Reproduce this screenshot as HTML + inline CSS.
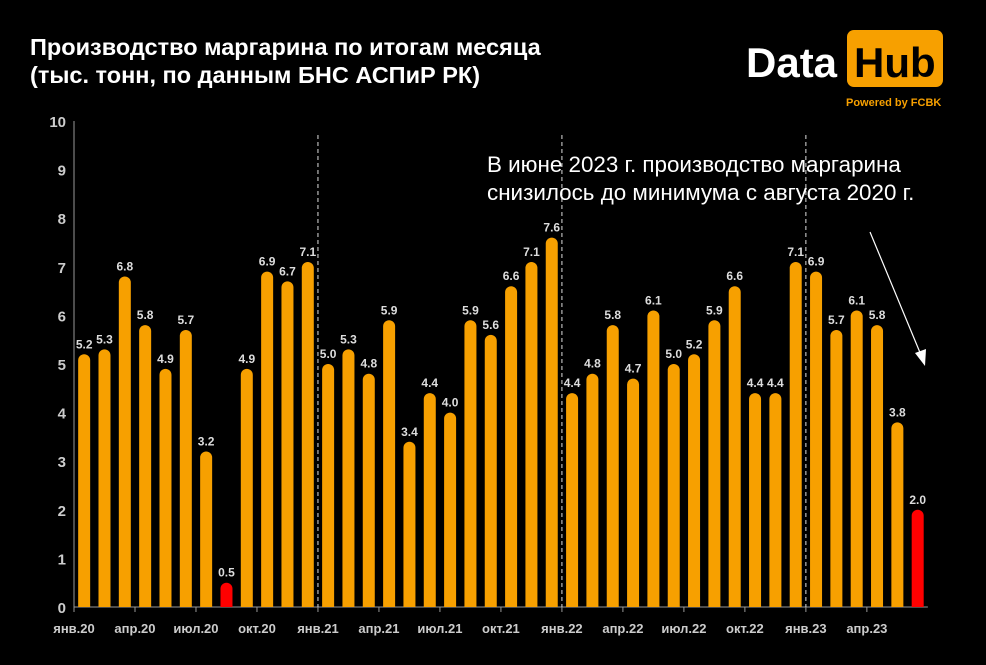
<!DOCTYPE html>
<html><head><meta charset="utf-8"><style>
body{margin:0;background:#000;width:986px;height:665px;overflow:hidden;font-family:"Liberation Sans",sans-serif}
svg{display:block}
</style></head><body>
<svg width="986" height="665">
<text x="30" y="55" fill="#fff" font-size="23.5" font-weight="bold">Производство маргарина по итогам месяца</text>
<text x="30" y="83" fill="#fff" font-size="23.5" font-weight="bold">(тыс. тонн, по данным БНС АСПиР РК)</text>
<g>
<text x="746" y="77" fill="#fff" font-size="42" font-weight="bold">Data</text>
<rect x="847" y="30" width="96" height="57" rx="7" fill="#f7a000"/>
<text x="854" y="77" fill="#000" font-size="42" font-weight="bold">Hub</text>
<text x="846" y="106" fill="#f7a000" font-size="11" font-weight="bold">Powered by FCBK</text>
</g>
<g id="axes"></g>
<g id="bars"></g>
<text x="487" y="172" fill="#fff" font-size="22.4">В июне 2023 г. производство маргарина</text>
<text x="487" y="200" fill="#fff" font-size="22.4">снизилось до минимума с августа 2020 г.</text>
<g>
<line x1="870" y1="232" x2="921" y2="355" stroke="#fff" stroke-width="1.2"/>
<polygon points="925,366 915,353 926,349" fill="#fff"/>
</g>
</svg>
<script>
const categories=["янв.20","фев.20","мар.20","апр.20","май.20","июн.20","июл.20","авг.20","сен.20","окт.20","ноя.20","дек.20","янв.21","фев.21","мар.21","апр.21","май.21","июн.21","июл.21","авг.21","сен.21","окт.21","ноя.21","дек.21","янв.22","фев.22","мар.22","апр.22","май.22","июн.22","июл.22","авг.22","сен.22","окт.22","ноя.22","дек.22","янв.23","фев.23","мар.23","апр.23","май.23","июн.23"];
const values=[5.2,5.3,6.8,5.8,4.9,5.7,3.2,0.5,4.9,6.9,6.7,7.1,5.0,5.3,4.8,5.9,3.4,4.4,4.0,5.9,5.6,6.6,7.1,7.6,4.4,4.8,5.8,4.7,6.1,5.0,5.2,5.9,6.6,4.4,4.4,7.1,6.9,5.7,6.1,5.8,3.8,2.0];
const highlighted=["авг.20","июн.23"];
const yTicks=[0,1,2,3,4,5,6,7,8,9,10];
const NS="http://www.w3.org/2000/svg";
const x0=74,x1=74+42*20.33,y0=607,yTop=121;
const band=(x1-x0)/categories.length;
const xs=i=>x0+band*i;
const ys=v=>y0-(v/10)*(y0-yTop);
function mk(t,a,p){const e=document.createElementNS(NS,t);for(const k in a)e.setAttribute(k,a[k]);p.appendChild(e);return e;}
const ax=document.getElementById('axes'),bg=document.getElementById('bars');
const yl=mk('line',{x1:x0,y1:yTop,x2:x0,y2:y0,stroke:'#999','stroke-width':1},ax);


const xl=mk('line',{x1:x0,y1:y0,x2:x1,y2:y0,stroke:'#999','stroke-width':1},ax);


yTicks.forEach(t=>{const e=mk('text',{x:x0-8,y:ys(t)+6,fill:'#ccc','font-size':15,'font-weight':'bold','text-anchor':'end'},ax);e.textContent=t;

});
categories.forEach((c,i)=>{
 if(i%3===0){mk('line',{x1:xs(i),y1:y0,x2:xs(i),y2:y0+5,stroke:'#999'},ax);
  const t=mk('text',{x:xs(i),y:y0+26,fill:'#ccc','font-size':13,'font-weight':'bold','text-anchor':'middle'},ax);t.textContent=c;
  
  }
 if(i>0&&i%12===0){const d=mk('line',{x1:xs(i),y1:135,x2:xs(i),y2:y0,stroke:'#ddd','stroke-dasharray':'4,3','stroke-width':1},ax);
  
  }
 const v=values[i],cx=xs(i)+band/2,w=12,top=ys(v);
 const col=highlighted.includes(c)?'#ff0000':'#f7a000';
 const p=mk('path',{d:`M${cx-w/2},${y0} L${cx-w/2},${top+w/2} A${w/2},${w/2} 0 0 1 ${cx+w/2},${top+w/2} L${cx+w/2},${y0} Z`,fill:col},bg);
 
 
 const lb=mk('text',{x:cx,y:top-6,fill:'#ddd','font-size':12,'font-weight':'bold','text-anchor':'middle'},bg);lb.textContent=v.toFixed(1);
 
 
});
</script>
</body></html>
